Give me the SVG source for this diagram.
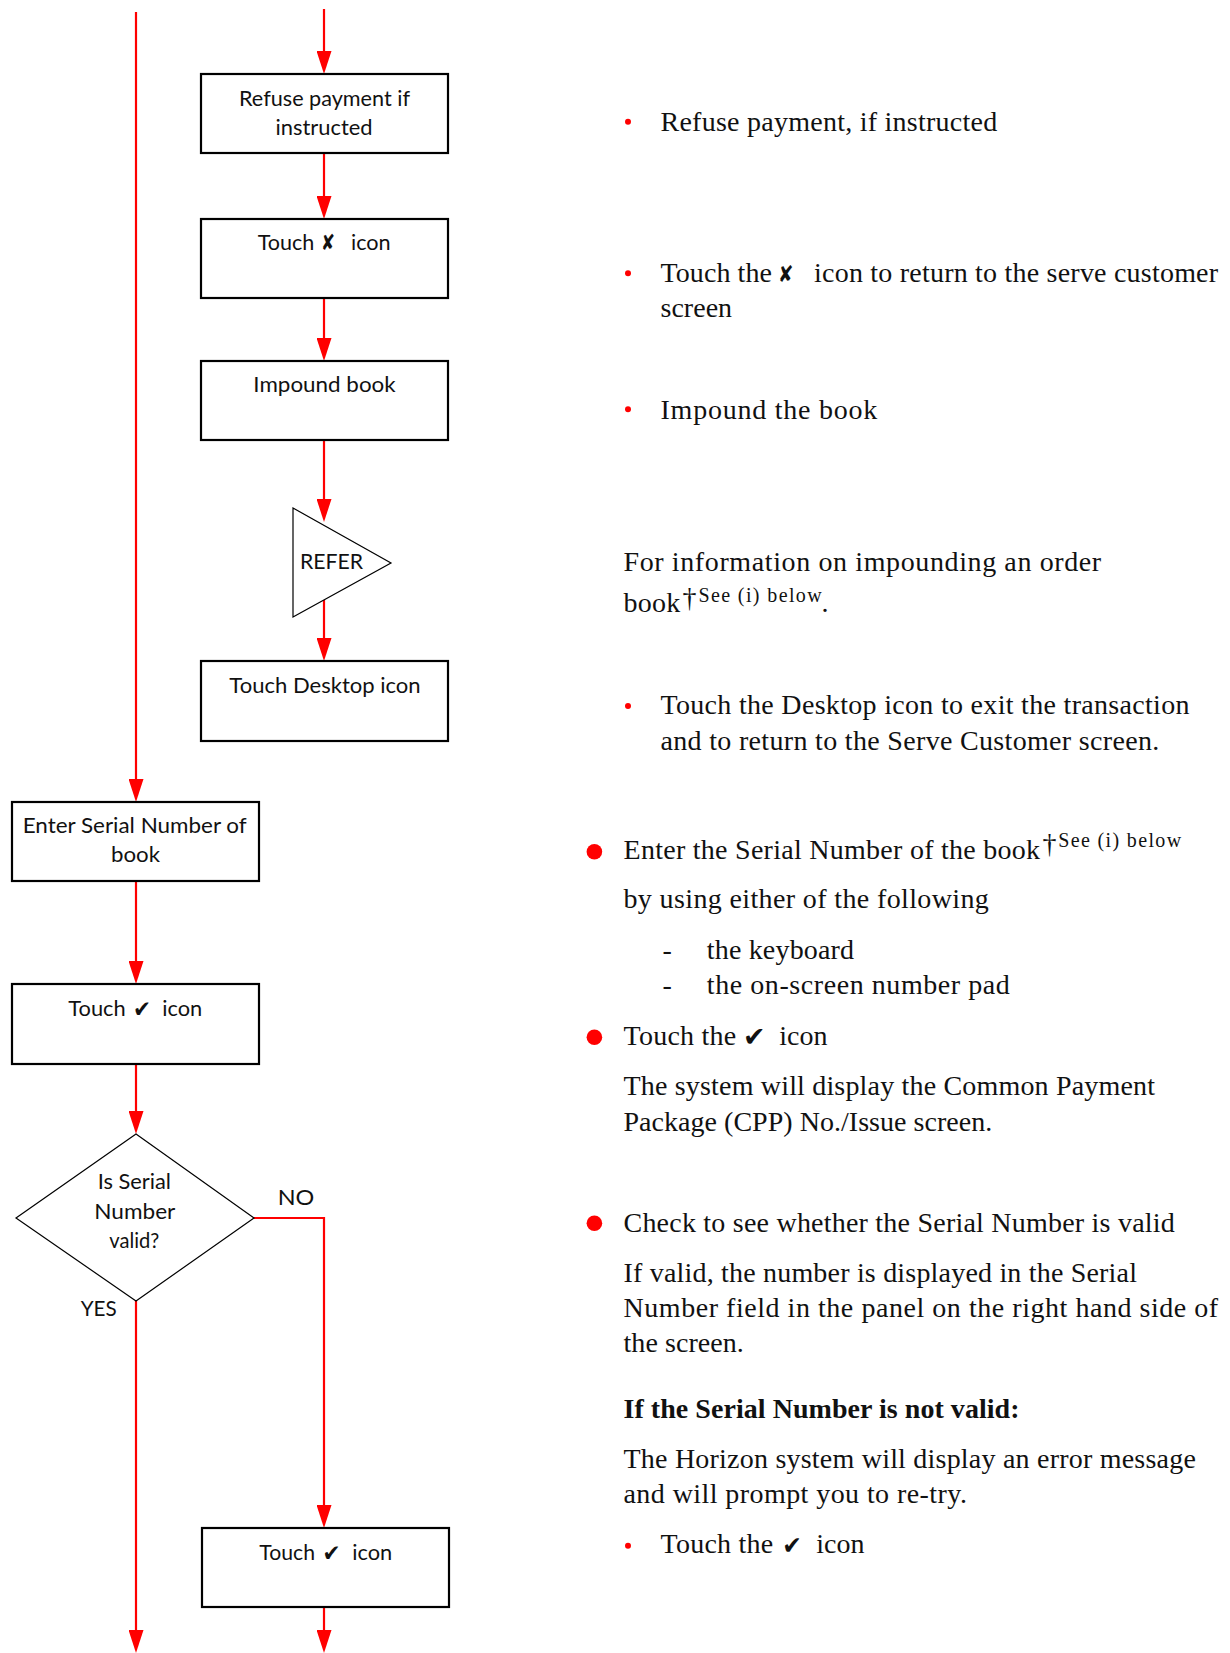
<svg xmlns="http://www.w3.org/2000/svg" width="1230" height="1653" viewBox="0 0 1230 1653">
  <style>
    .box { fill: #fff; stroke: #000; stroke-width: 2.2; }
    .shape { fill: #fff; stroke: #000; stroke-width: 1.2; }
    .flow { fill: none; stroke: #f00; stroke-width: 2.2; marker-end: url(#arrow); }
    .lbl { font-family: Lato, "Liberation Sans", sans-serif; font-size: 21.5px; fill: #111; }
    .sym { font-family: "DejaVu Sans", sans-serif; fill: #111; }
    .body { font-family: "Liberation Serif", serif; font-size: 28px; fill: #111; }
    .sup { font-family: "Liberation Serif", serif; font-size: 20px; fill: #111; }
    .dot { fill: #f00; }
  </style>
  <defs>
    <marker id="arrow" markerUnits="userSpaceOnUse" markerWidth="23" markerHeight="15" viewBox="0 0 23 15" refX="15" refY="7.5" orient="auto">
      <path d="M0,0 L23,7.5 L0,15 Z" fill="#f00"/>
    </marker>
  </defs>
  <rect width="1230" height="1653" fill="#fff"/>

  <!-- connectors -->
  <g id="connectors">
    <path class="flow" d="M136,12 V794"/>
    <path class="flow" d="M324,9 V66"/>
    <path class="flow" d="M324,153 V211"/>
    <path class="flow" d="M324,298 V353"/>
    <path class="flow" d="M324,440 V514"/>
    <path class="flow" d="M324,600 V653"/>
    <path class="flow" d="M136,881 V976"/>
    <path class="flow" d="M136,1064 V1126"/>
    <path class="flow" d="M136,1301 V1645"/>
    <path class="flow" d="M254,1218 H324 V1520"/>
    <path class="flow" d="M324,1607 V1645"/>
  </g>

  <!-- flowchart nodes -->
  <g id="refuse-payment">
    <rect class="box" x="201" y="74" width="247" height="79"/>
    <text class="lbl" x="324.5" y="106" text-anchor="middle" textLength="171" lengthAdjust="spacingAndGlyphs">Refuse payment if</text>
    <text class="lbl" x="324" y="135" text-anchor="middle" textLength="97" lengthAdjust="spacingAndGlyphs">instructed</text>
  </g>
  <g id="touch-cross">
    <rect class="box" x="201" y="219" width="247" height="79"/>
    <text class="lbl" x="257.7" y="250" textLength="56.6" lengthAdjust="spacingAndGlyphs">Touch</text>
    <text class="sym" x="321" y="250" font-size="22" textLength="14" lengthAdjust="spacingAndGlyphs">✘</text>
    <text class="lbl" x="351" y="250" textLength="39.7" lengthAdjust="spacingAndGlyphs">icon</text>
  </g>
  <g id="impound-book">
    <rect class="box" x="201" y="361" width="247" height="79"/>
    <text class="lbl" x="324.5" y="391.7" text-anchor="middle" textLength="142.3" lengthAdjust="spacingAndGlyphs">Impound book</text>
  </g>
  <g id="refer">
    <polygon class="shape" points="293,508 391,563 293,617"/>
    <text class="lbl" x="300" y="568.7" textLength="63" lengthAdjust="spacingAndGlyphs">REFER</text>
  </g>
  <g id="touch-desktop">
    <rect class="box" x="201" y="661" width="247" height="80"/>
    <text class="lbl" x="325" y="692.7" text-anchor="middle" textLength="191.3" lengthAdjust="spacingAndGlyphs">Touch Desktop icon</text>
  </g>
  <g id="enter-serial">
    <rect class="box" x="12" y="802" width="247" height="79"/>
    <text class="lbl" x="134.7" y="832.7" text-anchor="middle" textLength="224" lengthAdjust="spacingAndGlyphs">Enter Serial Number of</text>
    <text class="lbl" x="135.5" y="862" text-anchor="middle" textLength="49" lengthAdjust="spacingAndGlyphs">book</text>
  </g>
  <g id="touch-tick-1">
    <rect class="box" x="12" y="984" width="247" height="80"/>
    <text class="lbl" x="68.3" y="1016" textLength="57.4" lengthAdjust="spacingAndGlyphs">Touch</text>
    <text class="sym" x="133" y="1017" font-size="23" textLength="18" lengthAdjust="spacingAndGlyphs">✔</text>
    <text class="lbl" x="162.3" y="1016" textLength="40" lengthAdjust="spacingAndGlyphs">icon</text>
  </g>
  <g id="serial-valid">
    <polygon class="shape" points="136,1134 254,1218 136,1301 16,1218"/>
    <text class="lbl" x="134.3" y="1189" text-anchor="middle" textLength="73.3" lengthAdjust="spacingAndGlyphs">Is Serial</text>
    <text class="lbl" x="134.8" y="1218.7" text-anchor="middle" textLength="81" lengthAdjust="spacingAndGlyphs">Number</text>
    <text class="lbl" x="134.3" y="1248.3" text-anchor="middle" textLength="50" lengthAdjust="spacingAndGlyphs">valid?</text>
    <text class="lbl" x="277.7" y="1205" textLength="36.6" lengthAdjust="spacingAndGlyphs">NO</text>
    <text class="lbl" x="80.7" y="1316" textLength="36" lengthAdjust="spacingAndGlyphs">YES</text>
  </g>
  <g id="touch-tick-2">
    <rect class="box" x="202" y="1528" width="247" height="79"/>
    <text class="lbl" x="259.3" y="1560" textLength="55.7" lengthAdjust="spacingAndGlyphs">Touch</text>
    <text class="sym" x="322.5" y="1561" font-size="23" textLength="18" lengthAdjust="spacingAndGlyphs">✔</text>
    <text class="lbl" x="352.3" y="1560" textLength="40" lengthAdjust="spacingAndGlyphs">icon</text>
  </g>

  <!-- procedure notes -->
  <g id="notes">
    <circle class="dot" cx="628" cy="121.7" r="3"/>
    <text class="body" x="660.5" y="130.7" textLength="336.7">Refuse payment, if instructed</text>

    <circle class="dot" cx="628" cy="273.3" r="3"/>
    <text class="body" x="660.5" y="281.7" textLength="111.5">Touch the</text>
    <text class="sym" x="778" y="282" font-size="23" textLength="15.5" lengthAdjust="spacingAndGlyphs">✘</text>
    <text class="body" x="814.1" y="281.7" textLength="404">icon to return to the serve customer</text>
    <text class="body" x="660.5" y="317.3" textLength="71.6">screen</text>

    <circle class="dot" cx="628" cy="409.3" r="3"/>
    <text class="body" x="660.5" y="419.3" textLength="216.8">Impound the book</text>

    <text class="body" x="623.5" y="571" textLength="477.7">For information on impounding an order</text>
    <text class="body" x="623.5" y="612.3" textLength="56.8">book</text>
    <text class="body" x="682.5" y="607" font-size="23">†</text>
    <text class="sup" x="698.4" y="601.7" textLength="123.3">See (i) below</text>
    <text class="body" x="821.5" y="612.3">.</text>

    <circle class="dot" cx="628" cy="706" r="3"/>
    <text class="body" x="660.5" y="714.3" textLength="529">Touch the Desktop icon to exit the transaction</text>
    <text class="body" x="660.5" y="750" textLength="498.8">and to return to the Serve Customer screen.</text>

    <circle class="dot" cx="594.4" cy="851.7" r="7.8"/>
    <text class="body" x="623.5" y="859.3" textLength="416.6">Enter the Serial Number of the book</text>
    <text class="body" x="1042.5" y="853" font-size="23">†</text>
    <text class="sup" x="1058.2" y="846.7" textLength="122.9">See (i) below</text>
    <text class="body" x="623.5" y="908.3" textLength="365.3">by using either of the following</text>
    <text class="body" x="662.6" y="959.3">-</text>
    <text class="body" x="706.8" y="959.3" textLength="147.3">the keyboard</text>
    <text class="body" x="662.6" y="994.3">-</text>
    <text class="body" x="706.8" y="994.3" textLength="303">the on-screen number pad</text>

    <circle class="dot" cx="594.4" cy="1037.3" r="7.8"/>
    <text class="body" x="623.5" y="1045" textLength="112.8">Touch the</text>
    <text class="sym" x="743" y="1046" font-size="27" textLength="22.5" lengthAdjust="spacingAndGlyphs">✔</text>
    <text class="body" x="779.2" y="1045" textLength="48.4">icon</text>
    <text class="body" x="623.5" y="1095" textLength="531.5">The system will display the Common Payment</text>
    <text class="body" x="623.5" y="1130.7" textLength="368.7">Package (CPP) No./Issue screen.</text>

    <circle class="dot" cx="594.4" cy="1223.3" r="7.8"/>
    <text class="body" x="623.5" y="1231.7" textLength="551.3">Check to see whether the Serial Number is valid</text>
    <text class="body" x="623.5" y="1281.7" textLength="513.5">If valid, the number is displayed in the Serial</text>
    <text class="body" x="623.5" y="1316.7" textLength="594.7">Number field in the panel on the right hand side of</text>
    <text class="body" x="623.5" y="1351.7" textLength="120.3">the screen.</text>

    <text class="body" x="623.5" y="1418.3" font-weight="bold" textLength="396">If the Serial Number is not valid:</text>
    <text class="body" x="623.5" y="1468.3" textLength="572.4">The Horizon system will display an error message</text>
    <text class="body" x="623.5" y="1503.3" textLength="343.4">and will prompt you to re-try.</text>

    <circle class="dot" cx="628" cy="1545.7" r="3"/>
    <text class="body" x="660.5" y="1553.3" textLength="112.8">Touch the</text>
    <text class="sym" x="782.3" y="1554" font-size="25" textLength="19.5" lengthAdjust="spacingAndGlyphs">✔</text>
    <text class="body" x="816.2" y="1553.3" textLength="48.4">icon</text>
  </g>
</svg>
